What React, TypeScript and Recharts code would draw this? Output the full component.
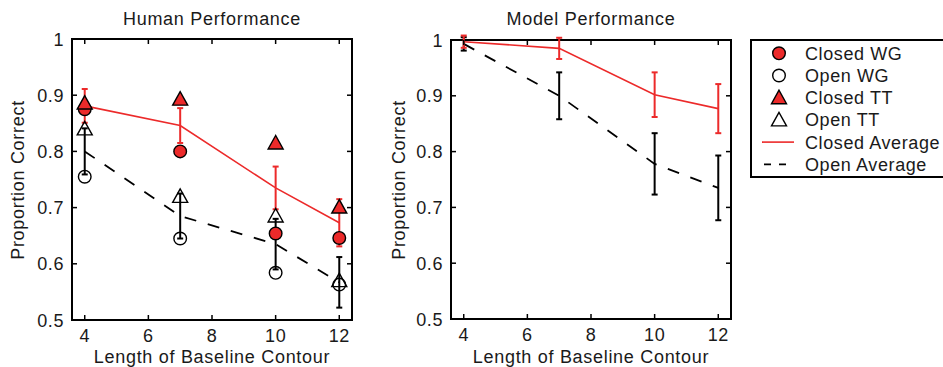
import { ComposedChart, Line, XAxis, YAxis, ErrorBar, ReferenceArea } from "recharts";

const RED = "#EC2A2A";
const FONT = "'Liberation Sans', Arial, sans-serif";

// contour lengths
const lengths = [4, 7, 10, 12];
const xTicks = [4, 6, 8, 10, 12];
const yTicks = [0.5, 0.6, 0.7, 0.8, 0.9, 1];

// human performance
const humanClosedWG = [0.875, 0.8, 0.654, 0.646];
const humanOpenWG = [0.755, 0.645, 0.584, 0.563];
const humanClosedTT = [0.886, 0.893, 0.815, 0.701];
const humanOpenTT = [0.84, 0.72, 0.685, 0.57];
const humanClosedAvg = [0.881, 0.846, 0.735, 0.673];
const humanClosedErr = [0.03, 0.031, 0.038, 0.042];
const humanOpenAvg = [0.8, 0.685, 0.635, 0.567];
const humanOpenErr = [0.041, 0.04, 0.045, 0.045];

// model performance
const modelClosedAvg = [0.997, 0.985, 0.902, 0.877];
const modelClosedErr = [0.011, 0.019, 0.04, 0.044];
const modelOpenAvg = [0.993, 0.9, 0.778, 0.735];
const modelOpenErr = [0.012, 0.042, 0.055, 0.058];

const humanRows = lengths.map((len, i) => ({
  len,
  closedWG: humanClosedWG[i],
  openWG: humanOpenWG[i],
  closedTT: humanClosedTT[i],
  openTT: humanOpenTT[i],
  closedAvg: humanClosedAvg[i],
  closedErr: humanClosedErr[i],
  openAvg: humanOpenAvg[i],
  openErr: humanOpenErr[i],
}));

const modelRows = lengths.map((len, i) => ({
  len,
  closedAvg: modelClosedAvg[i],
  closedErr: modelClosedErr[i],
  openAvg: modelOpenAvg[i],
  openErr: modelOpenErr[i],
}));

const legendItems = [
  { name: "Closed WG", kind: "circle", fill: RED },
  { name: "Open WG", kind: "circle", fill: "none" },
  { name: "Closed TT", kind: "tri", fill: RED },
  { name: "Open TT", kind: "tri", fill: "none" },
  { name: "Closed Average", kind: "solid", fill: RED },
  { name: "Open Average", kind: "dash", fill: "#000" },
];

type Box = { l: number; r: number; t: number; b: number };

const triPoints = (cx: number, cy: number) =>
  `${cx},${cy - 7.5} ${cx - 7.5},${cy + 6} ${cx + 7.5},${cy + 6}`;

const circleDot = (fill: string) => (p: any) =>
  p.cx == null ? (
    <g key={`c${p.index}`} />
  ) : (
    <circle key={`c${p.index}`} cx={p.cx} cy={p.cy} r={6.3} fill={fill} stroke="#000" strokeWidth={1.4} />
  );

const triDot = (fill: string) => (p: any) =>
  p.cx == null ? (
    <g key={`t${p.index}`} />
  ) : (
    <polygon key={`t${p.index}`} points={triPoints(p.cx, p.cy)} fill={fill} stroke="#000" strokeWidth={1.4} />
  );

// inward ticks on both sides of the box, matlab style
const makeXTick = (box: Box) => (p: any) => (
  <g>
    <line x1={p.x} x2={p.x} y1={box.b} y2={box.b - 5} stroke="#000" strokeWidth={1.5} />
    <line x1={p.x} x2={p.x} y1={box.t} y2={box.t + 5} stroke="#000" strokeWidth={1.5} />
    <text x={p.x} y={box.b + 22} textAnchor="middle" fontSize={18} fill="#1a1a1a" fontFamily={FONT} letterSpacing={0.6}>
      {p.payload.value}
    </text>
  </g>
);

const makeYTick = (box: Box) => (p: any) => (
  <g>
    <line x1={box.l} x2={box.l + 5} y1={p.y} y2={p.y} stroke="#000" strokeWidth={1.5} />
    <line x1={box.r - 5} x2={box.r} y1={p.y} y2={p.y} stroke="#000" strokeWidth={1.5} />
    <text x={box.l - 8} y={p.y + 6.5} textAnchor="end" fontSize={18} fill="#1a1a1a" fontFamily={FONT} letterSpacing={0.6}>
      {String(p.payload.value)}
    </text>
  </g>
);

const Panel = ({
  rows,
  box,
  width,
  height,
  withMarkers,
}: {
  rows: any[];
  box: Box;
  width: number;
  height: number;
  withMarkers: boolean;
}) => (
  <ComposedChart
    width={width}
    height={height}
    data={rows}
    margin={{ top: box.t, right: width - box.r, bottom: 0, left: 0 }}
  >
    <XAxis
      type="number"
      dataKey="len"
      domain={[3.6, 12.4]}
      ticks={xTicks}
      interval={0}
      allowDataOverflow
      height={height - box.b}
      axisLine={false}
      tickLine={false}
      tick={makeXTick(box)}
    />
    <YAxis
      type="number"
      domain={[0.5, 1]}
      ticks={yTicks}
      interval={0}
      allowDataOverflow
      width={box.l}
      axisLine={false}
      tickLine={false}
      tick={makeYTick(box)}
    />
    <ReferenceArea x1={3.6} x2={12.4} y1={0.5} y2={1} fill="none" stroke="#000" strokeWidth={2} ifOverflow="visible" />
    <Line
      type="linear"
      dataKey="openAvg"
      stroke="#000"
      strokeWidth={1.8}
      strokeDasharray="12 12"
      dot={false}
      activeDot={false}
      isAnimationActive={false}
    >
      <ErrorBar dataKey="openErr" direction="y" width={3} stroke="#000" strokeWidth={2} />
    </Line>
    <Line
      type="linear"
      dataKey="closedAvg"
      stroke={RED}
      strokeWidth={1.6}
      dot={false}
      activeDot={false}
      isAnimationActive={false}
    >
      <ErrorBar dataKey="closedErr" direction="y" width={3} stroke={RED} strokeWidth={2} />
    </Line>
    {withMarkers && (
      <Line dataKey="openWG" stroke="none" dot={circleDot("none")} activeDot={false} isAnimationActive={false} />
    )}
    {withMarkers && (
      <Line dataKey="openTT" stroke="none" dot={triDot("none")} activeDot={false} isAnimationActive={false} />
    )}
    {withMarkers && (
      <Line dataKey="closedWG" stroke="none" dot={circleDot(RED)} activeDot={false} isAnimationActive={false} />
    )}
    {withMarkers && (
      <Line dataKey="closedTT" stroke="none" dot={triDot(RED)} activeDot={false} isAnimationActive={false} />
    )}
  </ComposedChart>
);

const Overlay = () => {
  const textProps = { fontSize: 18, fill: "#1a1a1a", fontFamily: FONT, letterSpacing: 0.7 };
  const rowY = (i: number) => 53.3 + i * 22.2;
  return (
    <svg width={943} height={367} style={{ position: "absolute", left: 0, top: 0, pointerEvents: "none" }}>
      <text x={212} y={24.5} textAnchor="middle" {...textProps}>Human Performance</text>
      <text x={591} y={24.5} textAnchor="middle" {...textProps}>Model Performance</text>
      <text x={212} y={363} textAnchor="middle" {...textProps}>Length of Baseline Contour</text>
      <text x={591} y={363} textAnchor="middle" {...textProps}>Length of Baseline Contour</text>
      <text transform="translate(24,180) rotate(-90)" textAnchor="middle" {...textProps}>Proportion Correct</text>
      <text transform="translate(405,180) rotate(-90)" textAnchor="middle" {...textProps}>Proportion Correct</text>

      {/* legend box runs off the right edge, like the original */}
      <rect x={751} y={40} width={300} height={137} fill="#fff" stroke="#000" strokeWidth={2} />
      {legendItems.map((item, i) => {
        const y = rowY(i);
        let mark;
        if (item.kind === "circle")
          mark = <circle cx={779} cy={y} r={6.3} fill={item.fill} stroke="#000" strokeWidth={1.4} />;
        else if (item.kind === "tri")
          mark = <polygon points={triPoints(779, y)} fill={item.fill} stroke="#000" strokeWidth={1.4} />;
        else if (item.kind === "solid")
          mark = <line x1={762} x2={794} y1={y} y2={y} stroke={RED} strokeWidth={1.6} />;
        else mark = <line x1={764} x2={794} y1={y} y2={y} stroke="#000" strokeWidth={1.8} strokeDasharray="7 8" />;
        return (
          <g key={item.name}>
            {mark}
            <text x={805} y={y + 6.5} {...textProps} letterSpacing={0.6}>{item.name}</text>
          </g>
        );
      })}
    </svg>
  );
};

export default function App() {
  return (
    <div
      style={{
        position: "absolute",
        left: 0,
        top: 0,
        width: 943,
        height: 367,
        overflow: "hidden",
        background: "#fff",
        fontFamily: FONT,
      }}
    >
      <div style={{ position: "absolute", left: 0, top: 0 }}>
        <Panel rows={humanRows} box={{ l: 72, r: 352, t: 39, b: 320 }} width={370} height={367} withMarkers />
      </div>
      <div style={{ position: "absolute", left: 380, top: 0 }}>
        <Panel rows={modelRows} box={{ l: 71, r: 351, t: 40, b: 319 }} width={370} height={367} withMarkers={false} />
      </div>
      <Overlay />
    </div>
  );
}
